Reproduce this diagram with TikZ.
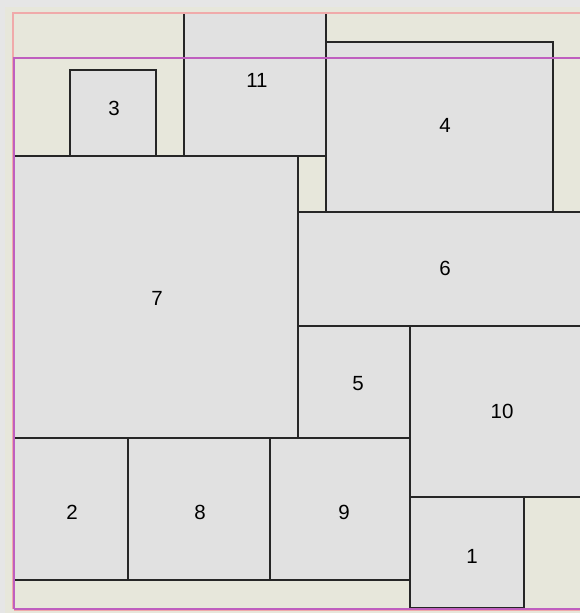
\documentclass[tikz,border=0pt]{standalone}
\usepackage{fontspec}
\setmainfont{Liberation Sans}
\definecolor{bgplain}{HTML}{E6E6E6}
\definecolor{bgdot}{HTML}{E7E7DB}
\definecolor{boxfill}{HTML}{E1E1E1}
\definecolor{pinkline}{HTML}{F0AAAA}
\definecolor{magline}{HTML}{BF5FBF}
\tikzset{
  blk/.style={draw=black!85, fill=boxfill, line width=1.4pt},
  lbl/.style={font=\fontsize{20.5}{20.5}\selectfont, text=black, inner sep=0pt},
  pinkrule/.style={draw=pinkline, line width=2pt},
  magrule/.style={draw=magline, line width=1.2pt}
}
\begin{document}
\begin{tikzpicture}[x=1pt,y=-1pt]
\useasboundingbox (0,0) rectangle (580,613);
\clip (0,0) rectangle (580,613);
\fill[bgplain] (0,0) rectangle (580,613);
\fill[bgdot] (5,7) rectangle (580,613);
% boxes
\draw[blk] (70,70) rectangle (156,156);
\draw[blk] (184,13) rectangle (326,156);
\draw[blk] (326,42) rectangle (553,212);
\draw[blk] (14,156) rectangle (298,438);
\draw[blk] (298,212) rectangle (600,326);
\draw[blk] (298,326) rectangle (410,438);
\draw[blk] (410,326) rectangle (600,497);
\draw[blk] (410,497) rectangle (524,608);
\draw[blk] (14,438) rectangle (128,580);
\draw[blk] (128,438) rectangle (270,580);
\draw[blk] (270,438) rectangle (410,580);
% guide rules
\draw[pinkrule] (13,609) -- (13,13) -- (600,13);
\draw[magrule] (14,609) -- (14,58) -- (600,58);
\draw[pinkrule] (14,609.5) -- (600,609.5);
\draw[magrule] (14,609) -- (600,609);
% labels
\node[lbl] (n3) at (114,108) {3};
\node[lbl] (n11) at (257,80) {11};
\node[lbl] (n4) at (445,125) {4};
\node[lbl] (n7) at (157,298) {7};
\node[lbl] (n6) at (445,268) {6};
\node[lbl] (n5) at (358,384) {5};
\node[lbl] (n10) at (502,411) {10};
\node[lbl] (n2) at (72,512) {2};
\node[lbl] (n8) at (200,512) {8};
\node[lbl] (n9) at (344,512) {9};
\node[lbl] (n1) at (472,556) {1};
\end{tikzpicture}
\end{document}
